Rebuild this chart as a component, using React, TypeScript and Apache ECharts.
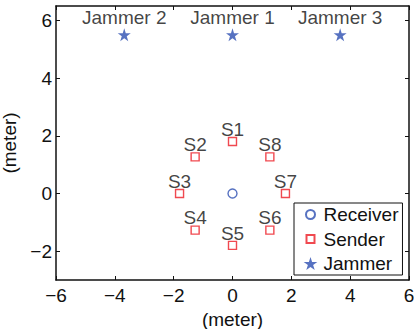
import React, { useEffect, useRef } from "react";
import * as echarts from "echarts";

const FONT = "Liberation Sans, Arial, Helvetica, sans-serif";
const TEXT = "#111";
const BLUE = "#2d4fb2";
const RED = "#ec1c24";
const FS = 19;

const receiver: number[][] = [[0, 0]];
const senderNames = ["S1", "S2", "S3", "S4", "S5", "S6", "S7", "S8"];
const senderX = [0, -1.27, -1.8, -1.27, 0, 1.27, 1.8, 1.27];
const senderY = [1.8, 1.27, 0, -1.27, -1.8, -1.27, 0, 1.27];
const jammerNames = ["Jammer 2", "Jammer 1", "Jammer 3"];
const jammerX = [-3.68, 0, 3.66];
const jammerY = [5.5, 5.5, 5.5];
const xTicks = [-6, -4, -2, 0, 2, 4, 6];
const yTicks = [-2, 0, 2, 4, 6];

const STAR = "path://M50,0 L61.2,34.5 L97.6,34.5 L68.2,55.9 L79.4,90.5 L50,69.1 L20.6,90.5 L31.8,55.9 L2.4,34.5 L38.8,34.5 Z";
const LEG_CIRCLE = "path://M-6.5,-6.5 M6.5,6.5 M4.5,0 A4.5,4.5 0 1,1 -4.5,0 A4.5,4.5 0 1,1 4.5,0 Z";
const LEG_SQUARE = "path://M-6.5,-6.5 M6.5,6.5 M-4,-4 L4,-4 L4,4 L-4,4 Z";

const fmt = (v: number) => String(v).replace("-", "\u2212");

export default function App() {
  const ref = useRef<HTMLDivElement>(null);
  useEffect(() => {
    if (!ref.current) return;
    const chart = echarts.init(ref.current, undefined, { renderer: "svg" });
    const axisLine = { show: true, onZero: false, lineStyle: { color: "#111", width: 1.5 } };
    const tick = (vals: number[]) => ({
      show: true,
      inside: true,
      length: 4,
      customValues: vals,
      lineStyle: { color: "#111", width: 1 },
    });
    const xBase = { type: "value" as const, min: -6, max: 6, interval: 2, splitLine: { show: false } };
    const yBase = { type: "value" as const, min: -3, max: 6.5, splitLine: { show: false } };
    const labelStyle = { color: TEXT, fontSize: FS, fontFamily: FONT, lineHeight: FS };
    chart.setOption({
      animation: false,
      backgroundColor: "#fff",
      textStyle: { fontFamily: FONT },
      grid: { left: 56, right: 5, top: 6, bottom: 49, containLabel: false, outerBoundsMode: "none" },
      xAxis: [
        {
          ...xBase,
          position: "bottom",
          axisLine,
          axisTick: tick(xTicks),
          axisLabel: { customValues: xTicks, formatter: fmt, color: TEXT, fontSize: FS, fontFamily: FONT, margin: 6 },
          name: "(meter)",
          nameLocation: "middle",
          nameGap: 26,
          nameTextStyle: { color: TEXT, fontSize: FS, fontFamily: FONT },
        },
        {
          ...xBase,
          position: "top",
          axisLine,
          axisTick: tick(xTicks),
          axisLabel: { show: false },
        },
      ],
      yAxis: [
        {
          ...yBase,
          position: "left",
          axisLine,
          axisTick: tick(yTicks),
          axisLabel: { customValues: yTicks, formatter: fmt, color: TEXT, fontSize: FS, fontFamily: FONT, margin: 4 },
          name: "(meter)",
          nameLocation: "middle",
          nameGap: 27,
          nameRotate: 90,
          nameTextStyle: { color: TEXT, fontSize: FS, fontFamily: FONT },
        },
        {
          ...yBase,
          position: "right",
          axisLine,
          axisTick: tick(yTicks),
          axisLabel: { show: false },
        },
      ],
      legend: {
        orient: "vertical",
        left: 294,
        top: 203,
        padding: [2, 4, 2, 9],
        itemGap: 5.5,
        itemWidth: 16,
        itemHeight: 13,
        backgroundColor: "#fff",
        borderColor: "#111",
        borderWidth: 1,
        borderRadius: 0,
        textStyle: labelStyle,
        data: [
          { name: "Receiver", icon: LEG_CIRCLE },
          { name: "Sender", icon: LEG_SQUARE },
          { name: "Jammer", icon: STAR },
        ],
      },
      series: [
        {
          name: "Receiver",
          type: "scatter",
          symbol: "circle",
          symbolSize: 9,
          itemStyle: { color: "rgba(255,255,255,0)", borderColor: BLUE, borderWidth: 1.4 },
          data: receiver,
          z: 3,
        },
        {
          name: "Sender",
          type: "scatter",
          symbol: "rect",
          symbolSize: 8,
          itemStyle: { color: "rgba(255,255,255,0)", borderColor: RED, borderWidth: 1.4 },
          label: { show: true, position: "top", distance: -2, formatter: "{b}", ...labelStyle },
          data: senderNames.map((n, i) => ({ name: n, value: [senderX[i], senderY[i]] })),
          z: 3,
        },
        {
          name: "Jammer",
          type: "scatter",
          symbol: STAR,
          symbolSize: 13,
          itemStyle: { color: BLUE },
          label: { show: true, position: "top", distance: 1, formatter: "{b}", ...labelStyle },
          data: jammerNames.map((n, i) => ({ name: n, value: [jammerX[i], jammerY[i]] })),
          z: 3,
        },
      ],
    });
    return () => chart.dispose();
  }, []);
  return (
    <div
      ref={ref}
      style={{ position: "fixed", left: 0, top: 0, width: 414, height: 329, background: "#fff" }}
    />
  );
}
